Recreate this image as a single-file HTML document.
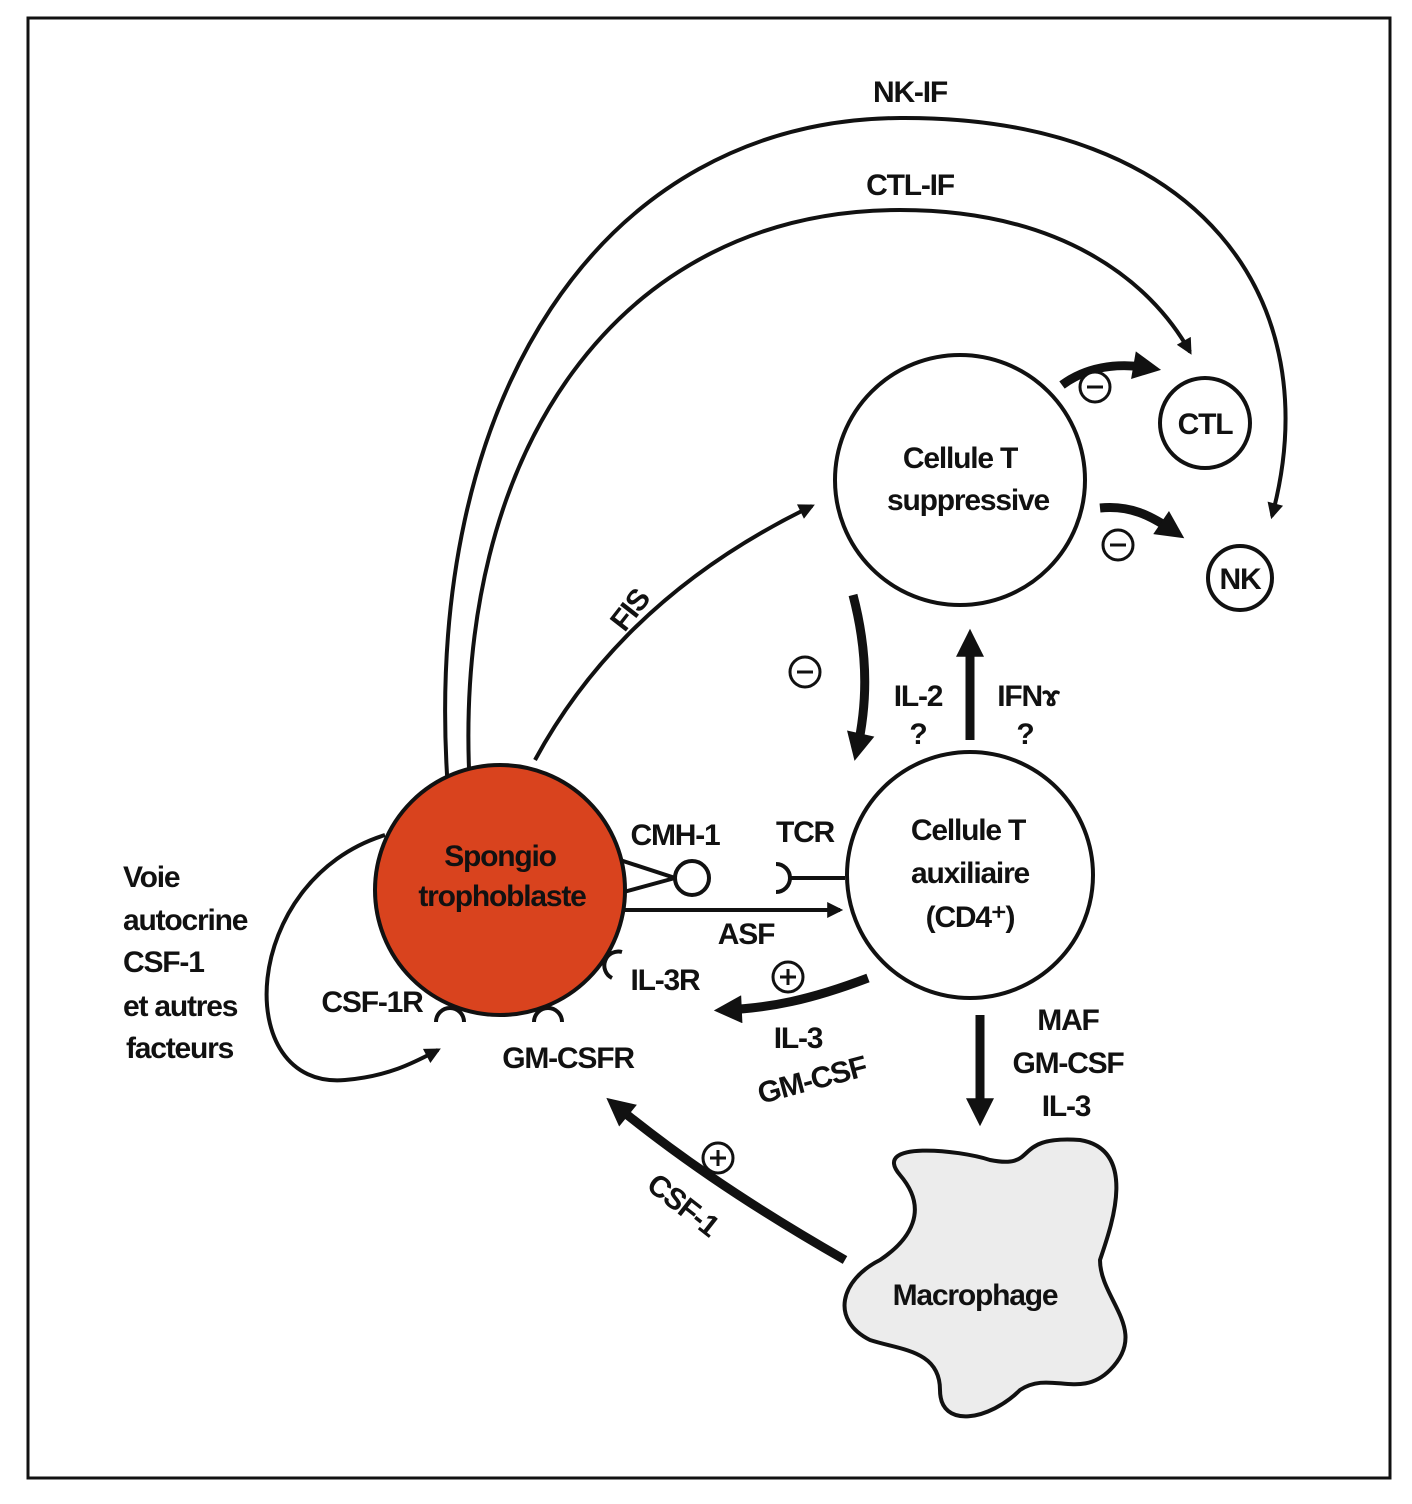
<!DOCTYPE html>
<html><head><meta charset="utf-8"><style>
html,body{margin:0;padding:0;background:#fff}
svg{display:block}
text{font-family:"Liberation Sans Narrow","Liberation Sans",sans-serif;font-weight:bold;fill:#111;letter-spacing:-1.2px}
</style></head><body>
<svg width="1412" height="1504" viewBox="0 0 1412 1504" xmlns="http://www.w3.org/2000/svg">
<defs>
<marker id="a" viewBox="0 0 10 10" refX="8" refY="5" markerWidth="18" markerHeight="16" markerUnits="userSpaceOnUse" orient="auto"><path d="M0,0 L10,5 L0,10 z" fill="#111"/></marker>
<marker id="b" viewBox="0 0 10 10" refX="6" refY="5" markerWidth="30" markerHeight="28" markerUnits="userSpaceOnUse" orient="auto"><path d="M0,0 L10,5 L0,10 z" fill="#111"/></marker>
</defs>
<rect x="28" y="18" width="1362" height="1460" fill="none" stroke="#111" stroke-width="3"/>
<g fill="none" stroke="#111" stroke-width="4">
<path d="M448,790 C420,400 600,120 900,118 C1200,116 1330,300 1272,516" marker-end="url(#a)"/>
<path d="M470,790 C450,450 620,210 900,210 C1060,210 1150,280 1190,352" marker-end="url(#a)"/>
<path d="M535,760 C600,640 700,560 812,506" marker-end="url(#a)"/>
<path d="M385,835 C240,880 230,1090 345,1080 C390,1076 415,1062 438,1050" marker-end="url(#a)"/>
<path d="M625,910 L840,910" marker-end="url(#a)"/>
<path d="M845,878 L790,878"/>
<path d="M620,860 L675,878 L620,893"/>
</g>
<g fill="none" stroke="#111" stroke-width="9">
<path d="M853,595 C870,660 866,710 857,750" marker-end="url(#b)"/>
<path d="M970,740 L970,640" marker-end="url(#b)"/>
<path d="M868,978 C810,1000 770,1008 725,1010" marker-end="url(#b)"/>
<path d="M980,1015 L980,1115" marker-end="url(#b)"/>
<path d="M845,1260 C740,1200 670,1150 615,1105" marker-end="url(#b)"/>
<path d="M1062,385 C1085,368 1115,362 1150,368" marker-end="url(#b)"/>
<path d="M1100,508 C1130,505 1150,515 1175,532" marker-end="url(#b)"/>
</g>
<circle cx="500" cy="890" r="125" fill="#d9431e" stroke="#111" stroke-width="4"/>
<circle cx="960" cy="480" r="125" fill="#fff" stroke="#111" stroke-width="4"/>
<circle cx="970" cy="875" r="123" fill="#fff" stroke="#111" stroke-width="4"/>
<circle cx="1205" cy="423" r="45" fill="#fff" stroke="#111" stroke-width="4"/>
<circle cx="1240" cy="578" r="32" fill="#fff" stroke="#111" stroke-width="4"/>
<circle cx="692" cy="878" r="17" fill="#fff" stroke="#111" stroke-width="4"/>
<g fill="none" stroke="#111" stroke-width="4">
<path d="M776,864 A14,14 0 0 1 776,892"/>
<path d="M436,1022 A14,14 0 0 1 464,1022"/>
<path d="M534,1022 A14,14 0 0 1 562,1022"/>
<path d="M622,952 A14,14 0 0 0 612,978"/>
</g>
<g fill="#fff" stroke="#111" stroke-width="3">
<circle cx="1095" cy="387" r="15"/>
<circle cx="1118" cy="545" r="15"/>
<circle cx="805" cy="672" r="15"/>
<circle cx="788" cy="977" r="15"/>
<circle cx="718" cy="1158" r="15"/>
</g>
<g stroke="#111" stroke-width="3">
<line x1="1087" y1="387" x2="1103" y2="387"/><line x1="1110" y1="545" x2="1126" y2="545"/><line x1="797" y1="672" x2="813" y2="672"/>
<line x1="780" y1="977" x2="796" y2="977"/><line x1="788" y1="969" x2="788" y2="985"/>
<line x1="710" y1="1158" x2="726" y2="1158"/><line x1="718" y1="1150" x2="718" y2="1166"/>
</g>
<path d="M900,1175 C870,1140 960,1150 990,1160 C1040,1170 1010,1135 1080,1140 C1140,1150 1110,1230 1100,1260 C1100,1300 1150,1330 1110,1370 C1080,1400 1050,1370 1020,1390 C990,1420 940,1430 940,1390 C940,1350 900,1350 870,1340 C830,1320 840,1280 880,1260 C910,1240 930,1210 900,1175 z" fill="#ececec" stroke="#111" stroke-width="4"/>
<g font-size="30">
<text x="910" y="102" text-anchor="middle">NK-IF</text>
<text x="910" y="195" text-anchor="middle">CTL-IF</text>
<text x="960" y="468" text-anchor="middle">Cellule T</text>
<text x="968" y="510" text-anchor="middle">suppressive</text>
<text x="1205" y="434" text-anchor="middle">CTL</text>
<text x="1240" y="589" text-anchor="middle">NK</text>
<text x="968" y="840" text-anchor="middle">Cellule T</text>
<text x="970" y="883" text-anchor="middle">auxiliaire</text>
<text x="970" y="927" text-anchor="middle">(CD4⁺)</text>
<text x="500" y="866" text-anchor="middle">Spongio</text>
<text x="502" y="906" text-anchor="middle">trophoblaste</text>
<text x="675" y="845" text-anchor="middle">CMH-1</text>
<text x="805" y="842" text-anchor="middle">TCR</text>
<text x="746" y="944" text-anchor="middle">ASF</text>
<text x="665" y="990" text-anchor="middle">IL-3R</text>
<text x="372" y="1012" text-anchor="middle">CSF-1R</text>
<text x="568" y="1068" text-anchor="middle">GM-CSFR</text>
<text x="918" y="706" text-anchor="middle">IL-2</text>
<text x="918" y="744" text-anchor="middle">?</text>
<text x="1028" y="706" text-anchor="middle">IFNɤ</text>
<text x="1025" y="744" text-anchor="middle">?</text>
<text x="1068" y="1030" text-anchor="middle">MAF</text>
<text x="1068" y="1073" text-anchor="middle">GM-CSF</text>
<text x="1066" y="1116" text-anchor="middle">IL-3</text>
<text x="798" y="1048" text-anchor="middle">IL-3</text>
<text x="812" y="1090" text-anchor="middle" transform="rotate(-15 812 1080)">GM-CSF</text>
<text x="975" y="1305" text-anchor="middle">Macrophage</text>
<text x="123" y="887">Voie</text>
<text x="123" y="930">autocrine</text>
<text x="123" y="972">CSF-1</text>
<text x="123" y="1016">et autres</text>
<text x="126" y="1058">facteurs</text>
<text x="630" y="620" text-anchor="middle" transform="rotate(-52 630 610)">FIS</text>
<text x="683" y="1215" text-anchor="middle" transform="rotate(38 683 1205)">CSF-1</text>
</g>
</svg>
</body></html>
